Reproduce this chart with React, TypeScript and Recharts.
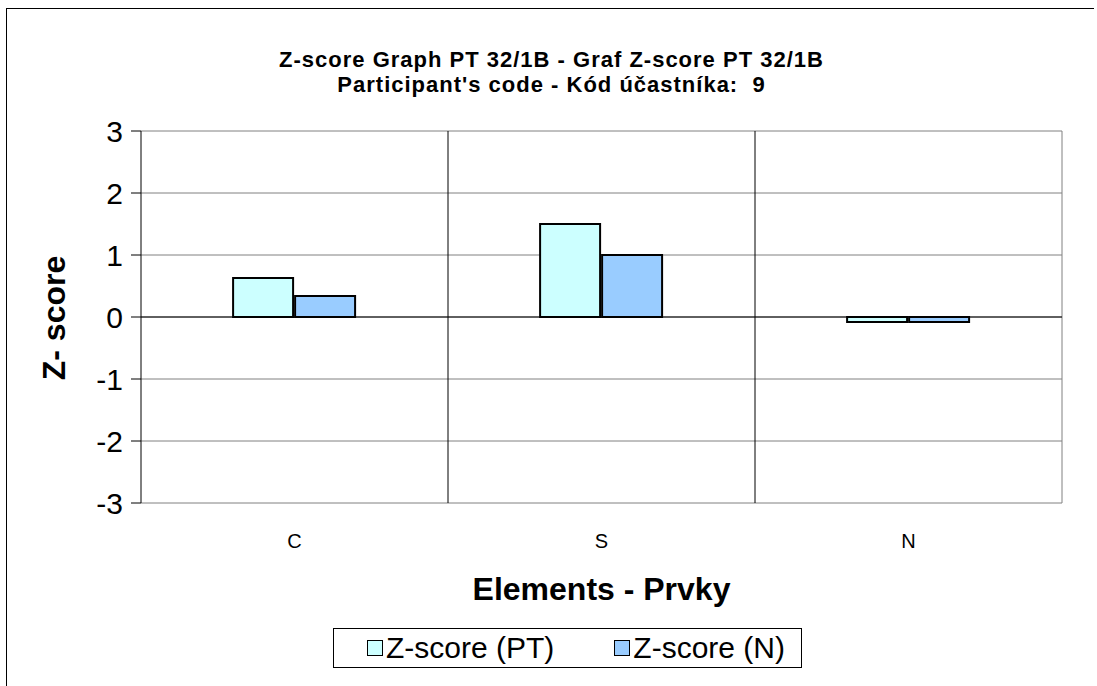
import React from 'react';
import { BarChart, Bar, XAxis, YAxis, CartesianGrid, ReferenceLine } from 'recharts';

const elements = ['C', 'S', 'N'];
const zScorePT = [0.63, 1.5, -0.08];
const zScoreN = [0.34, 1.0, -0.08];
const yTicks = [-3, -2, -1, 0, 1, 2, 3];

const data = elements.map((name, i) => ({ name, pt: zScorePT[i], n: zScoreN[i] }));

const FONT = 'Arial, "Liberation Sans", sans-serif';
const W = 1097;
const H = 686;

const LegendBox: React.FC = () => (
  <div
    style={{
      position: 'absolute', left: 333, top: 628, width: 469, height: 40,
      border: '1px solid #000', boxSizing: 'border-box', display: 'flex',
      alignItems: 'center', fontFamily: FONT, fontSize: 30, color: '#000', whiteSpace: 'nowrap',
    }}
  >
    <span style={{ display: 'inline-block', width: 14, height: 14, border: '1px solid #000', background: '#CCFFFF', marginLeft: 33, marginRight: 3 }} />
    <span>Z-score (PT)</span>
    <span style={{ display: 'inline-block', width: 14, height: 14, border: '1px solid #000', background: '#99CCFF', marginLeft: 60, marginRight: 3 }} />
    <span>Z-score (N)</span>
  </div>
);

export default function App() {
  return (
    <div style={{ position: 'absolute', left: 0, top: 0, width: W, height: H, background: '#fff', overflow: 'hidden' }}>
      <div style={{ position: 'absolute', left: 6, top: 8, width: 1087, height: H, borderTop: '1px solid #000', borderLeft: '1px solid #000' }} />
      <div style={{ position: 'absolute', left: 0, top: 47, width: 1103, textAlign: 'center', fontFamily: FONT, fontWeight: 'bold', fontSize: 22, letterSpacing: 1, lineHeight: '25px' }}>
        <div>Z-score Graph PT 32/1B - Graf Z-score PT 32/1B</div>
        <div>Participant's code - Kód účastníka:&nbsp; 9</div>
      </div>
      <BarChart
        width={W}
        height={H}
        data={data}
        margin={{ top: 131, right: 35, left: 0, bottom: 123 }}
        barCategoryGap="30%"
        barGap={2}
        style={{ position: 'absolute', left: 0, top: 0 }}
      >
        <CartesianGrid stroke="#808080" vertical={false} />
        <CartesianGrid
          stroke="#000"
          horizontal={false}
          verticalCoordinatesGenerator={({ offset }: any) => [
            offset.left + offset.width / 3,
            offset.left + (2 * offset.width) / 3,
          ]}
        />
        <CartesianGrid
          stroke="#808080"
          horizontal={false}
          verticalCoordinatesGenerator={({ offset }: any) => [offset.left + offset.width]}
        />
        <XAxis
          dataKey="name"
          axisLine={false}
          tickLine={false}
          height={60}
          tickMargin={25}
          tick={{ fill: '#000', fontSize: 20, fontFamily: FONT }}
        />
        <YAxis
          domain={[-3, 3]}
          ticks={yTicks}
          width={141}
          interval={0}
          axisLine={{ stroke: '#000' }}
          tickLine={{ stroke: '#000' }}
          tickSize={10}
          tickMargin={8}
          tick={{ fill: '#000', fontSize: 30, fontFamily: FONT }}
        />
        <ReferenceLine y={0} stroke="#000" />
        <Bar dataKey="pt" fill="#CCFFFF" stroke="#000" strokeWidth={2} isAnimationActive={false} />
        <Bar dataKey="n" fill="#99CCFF" stroke="#000" strokeWidth={2} isAnimationActive={false} />
      </BarChart>
      <div style={{ position: 'absolute', left: 141, top: 589, width: 921, textAlign: 'center', fontFamily: FONT, fontWeight: 'bold', fontSize: 32, lineHeight: '36px', transform: 'translateY(-50%)' }}>
        Elements - Prvky
      </div>
      <div
        style={{
          position: 'absolute', left: 54, top: 318, transform: 'translate(-50%, -50%) rotate(-90deg)',
          fontFamily: FONT, fontWeight: 'bold', fontSize: 32, lineHeight: '36px', whiteSpace: 'nowrap',
        }}
      >
        Z- score
      </div>
      <LegendBox />
    </div>
  );
}
